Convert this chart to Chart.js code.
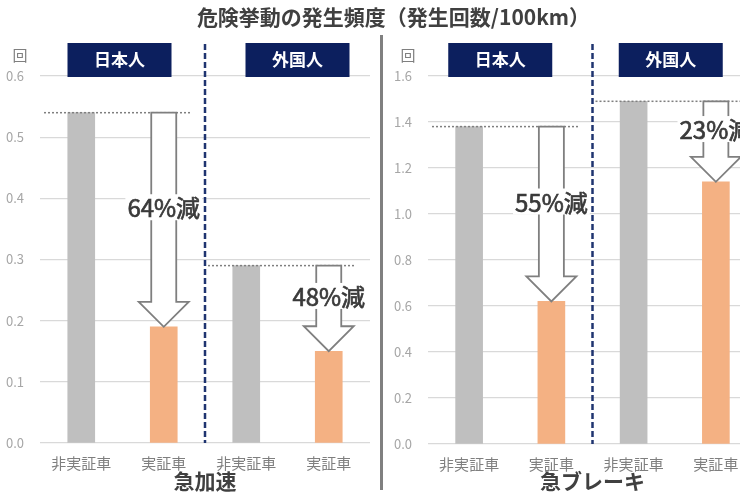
<!DOCTYPE html>
<html>
<head>
<meta charset="utf-8">
<script src="https://cdn.jsdelivr.net/npm/chart.js@4.4.1/dist/chart.umd.min.js"></script>
<style>
body{margin:0;width:740px;height:495px;overflow:hidden;background:#fff;position:relative;font-family:"Noto Sans CJK JP",sans-serif}
#title{position:absolute;left:0;top:3px;width:787px;text-align:center;font-size:21px;line-height:26px;font-weight:bold;color:#404040;z-index:2}
#sep{position:absolute;left:380px;top:35px;width:3px;height:455px;background:#808080}
.box{position:absolute;top:0;height:495px}
</style>
</head>
<body>
<div id="title">危険挙動の発生頻度（発生回数/100km）</div>
<div id="sep"></div>
<div class="box" style="left:0;width:378px"><canvas id="accel"></canvas></div>
<div class="box" style="left:386px;width:380px"><canvas id="brake"></canvas></div>
<script>
const categories=["非実証車","実証車","非実証車","実証車"]
const groups=["日本人","外国人"]
const accelValues=[0.54,0.19,0.29,0.15]
const brakeValues=[1.38,0.62,1.49,1.14]
const accelCuts=["64%減","48%減"]
const brakeCuts=["55%減","23%減"]
const barColors=["#bfbfbf","#f4b183","#bfbfbf","#f4b183"]

const FONT='"Noto Sans CJK JP", sans-serif'

function arrow(ctx,x,y1,y2){
let sw=12.5,hw=25,hh=25
ctx.beginPath()
ctx.moveTo(x-sw,y1)
ctx.lineTo(x+sw,y1)
ctx.lineTo(x+sw,y2-hh)
ctx.lineTo(x+hw,y2-hh)
ctx.lineTo(x,y2)
ctx.lineTo(x-hw,y2-hh)
ctx.lineTo(x-sw,y2-hh)
ctx.closePath()
ctx.fillStyle="#fff"
ctx.fill()
ctx.strokeStyle="#7f7f7f"
ctx.lineWidth=1.8
ctx.stroke()
}

const decor={
id:"decor",
afterDatasetsDraw(chart,args,o){
const ctx=chart.ctx
const x=chart.scales.x,y=chart.scales.y
const a=chart.chartArea
const vals=chart.data.datasets[0].data
const mid=(x.getPixelForValue(1)+x.getPixelForValue(2))/2
ctx.save()
// 回
ctx.fillStyle="#7f7f7f"
ctx.font="15px "+FONT
ctx.textAlign="center"
ctx.textBaseline="middle"
ctx.fillText("回",a.left-20,55)
for(let g=0;g<2;g++){
let xo=x.getPixelForValue(2*g+1)
let yTop=y.getPixelForValue(vals[2*g])
let yBot=y.getPixelForValue(vals[2*g+1])
// dotted reference line
ctx.setLineDash([2,2])
ctx.strokeStyle="#7f7f7f"
ctx.lineWidth=1.5
ctx.beginPath()
ctx.moveTo(g==0?a.left+4:mid+3,yTop)
ctx.lineTo(xo+27,yTop)
ctx.stroke()
ctx.setLineDash([])
arrow(ctx,xo,yTop,yBot)
// label
let ly=(yTop+yBot-25)/2
ctx.font="24px "+FONT
let w=ctx.measureText(o.cuts[g]).width
ctx.fillStyle="#fff"
ctx.fillRect(xo-w/2-2,ly-13,w+4,26)
ctx.fillStyle="#3a3a3a"
ctx.strokeStyle="#3a3a3a"
ctx.lineWidth=0.7
ctx.fillText(o.cuts[g],xo,ly+1)
ctx.strokeText(o.cuts[g],xo,ly+1)
// group box
let cx=(x.getPixelForValue(2*g)+xo)/2+o.boxShift[g]
ctx.fillStyle="#0c1f5e"
ctx.fillRect(cx-52,a.top-33,104,34)
ctx.fillStyle="#fff"
ctx.font="bold 17px "+FONT
ctx.fillText(groups[g],cx,a.top-16)
}
// group divider
ctx.setLineDash([6,3])
ctx.strokeStyle="#1f3470"
ctx.lineWidth=2.5
ctx.beginPath()
ctx.moveTo(mid,a.top-32)
ctx.lineTo(mid,a.bottom)
ctx.stroke()
ctx.restore()
}
}

function makeChart(id,values,cuts,label,max,step,yw,pad,xh,boxShift){
return new Chart(document.getElementById(id),{
type:"bar",
data:{labels:categories,datasets:[{data:values,backgroundColor:barColors,barThickness:27}]},
options:{
responsive:true,
maintainAspectRatio:false,
animation:false,
layout:{padding:{top:76,right:pad,left:0,bottom:0}},
plugins:{legend:{display:false},tooltip:{enabled:false},decor:{cuts:cuts,boxShift:boxShift}},
scales:{
x:{
grid:{display:false},
border:{display:false},
ticks:{color:"#7f7f7f",font:{family:FONT,size:15},padding:3,maxRotation:0},
title:{display:true,text:label,color:"#404040",font:{family:FONT,size:21,weight:"bold"},padding:{top:0,bottom:1}},
afterFit:s=>{s.height=xh}
},
y:{
min:0,max:max,
grid:{color:"#d9d9d9",drawTicks:false,lineWidth:1.2},
border:{display:false},
ticks:{stepSize:step,color:"#a6a6a6",font:{family:FONT,size:13},padding:16,callback:v=>v.toFixed(1)},
afterFit:s=>{s.width=yw}
}
}
},
plugins:[decor]
})
}

makeChart("accel",accelValues,accelCuts,"急加速",0.6,0.1,40,8,52,[-3,10])
makeChart("brake",brakeValues,brakeCuts,"急ブレーキ",1.6,0.2,42,9,51,[-10,-4])
</script>
</body>
</html>
